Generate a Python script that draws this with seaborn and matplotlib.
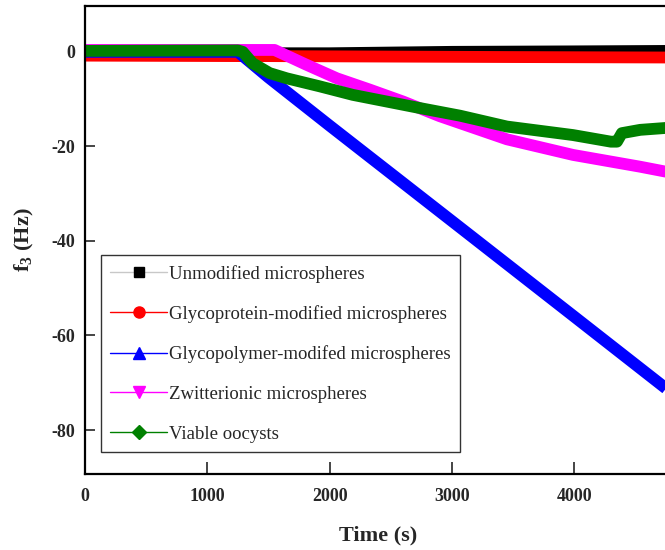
import matplotlib
matplotlib.use("Agg")
import matplotlib.pyplot as plt
from matplotlib.lines import Line2D
import pandas as pd
import seaborn as sns

# Frequency shift of the 3rd overtone (f3) versus time for each sample
time_unmod = [0, 1300, 2000, 3000, 4000, 4800]
f3_unmod = [-0.3, -0.3, -0.3, 0.0, 0.1, 0.2]

time_glycoprotein = [0, 1300, 1500, 2500, 3500, 4800]
f3_glycoprotein = [-0.8, -0.9, -0.9, -1.0, -1.1, -1.2]

time_glycopolymer = [0, 1250, 1500, 2000, 3060, 4000, 4800]
f3_glycopolymer = [0.0, 0.0, -5.4, -15.6, -37.0, -56.0, -72.2]

time_zwitterionic = [0, 1550, 1800, 2060, 2330, 2600, 2900, 3450, 3990, 4540, 4800]
f3_zwitterionic = [0.4, 0.4, -2.6, -5.6, -8.0, -10.5, -13.6, -18.5, -21.8, -24.3, -25.6]

time_oocysts = [0, 1250, 1290, 1370, 1510, 1650, 1920, 2190, 2465, 2740,
                3066, 3450, 3990, 4300, 4350, 4390, 4540, 4800]
f3_oocysts = [0.2, 0.3, 0.0, -2.4, -4.5, -5.6, -7.3, -9.1, -10.5, -11.9,
              -13.5, -15.8, -17.6, -19.0, -19.0, -17.2, -16.5, -16.0]

labels = ["Unmodified microspheres",
          "Glycoprotein-modified microspheres",
          "Glycopolymer-modifed microspheres",
          "Zwitterionic microspheres",
          "Viable oocysts"]
colors = ["#000000", "#ff0000", "#0000ff", "#ff00ff", "#008000"]
markers = ["s", "o", "^", "v", "D"]
marker_sizes = [6.5, 8, 8, 8, 7]
handle_line_colors = ["#c8c8c8", "#ff0000", "#0000ff", "#ff00ff", "#008000"]

series = [(time_unmod, f3_unmod), (time_glycoprotein, f3_glycoprotein),
          (time_glycopolymer, f3_glycopolymer), (time_zwitterionic, f3_zwitterionic),
          (time_oocysts, f3_oocysts)]

sns.set_style("white")
plt.rcParams["font.family"] = ["Liberation Serif", "DejaVu Serif"]
plt.rcParams["axes.unicode_minus"] = False
plt.rcParams["mathtext.fontset"] = "custom"
plt.rcParams["mathtext.rm"] = "Liberation Serif"
plt.rcParams["mathtext.bf"] = "Liberation Serif:bold"

fig = plt.figure(figsize=(6.65, 5.5), dpi=100)
ax = fig.add_axes([0.1278, 0.1382, 0.8827, 0.8509])

for (t, f), lab, col in zip(series, labels, colors):
    df = pd.DataFrame({"Time (s)": t, "f3": f})
    sns.lineplot(data=df, x="Time (s)", y="f3", ax=ax, color=col,
                 linewidth=8.5, sort=False, legend=False,
                 solid_capstyle="butt", solid_joinstyle="round")

ax.set_xlim(0, 4800)
ax.set_ylim(-89.3, 9.7)
ax.set_xticks([0, 1000, 2000, 3000, 4000])
ax.set_yticks([0, -20, -40, -60, -80])

for side in ["left", "bottom", "top", "right"]:
    ax.spines[side].set_visible(True)
    ax.spines[side].set_color("black")
    ax.spines[side].set_linewidth(1.6)

ax.tick_params(axis="x", direction="in", length=9, width=1.2, pad=10,
               labelsize=13, bottom=True, top=False)
ax.tick_params(axis="y", direction="in", length=7.5, width=1.2, pad=7,
               labelsize=13, left=True, right=False)
for lbl in ax.get_xticklabels() + ax.get_yticklabels():
    lbl.set_fontweight("bold")

ax.set_xlabel("Time (s)", fontsize=16, fontweight="bold")
ax.set_ylabel(r"$\mathbf{f_3}$ (Hz)", fontsize=16, fontweight="bold")
ax.xaxis.set_label_coords(0.5, -0.11)
ax.yaxis.set_label_coords(-0.083, 0.5)

handles = [Line2D([], [], color=lc, lw=1.0, marker=m, markersize=ms,
                  markerfacecolor=c, markeredgecolor=c)
           for lc, m, ms, c in zip(handle_line_colors, markers, marker_sizes, colors)]
leg = ax.legend(handles, labels, loc="lower left",
                bbox_to_anchor=(101 / 665, (550 - 452) / 550),
                bbox_transform=fig.transFigure, borderaxespad=0,
                frameon=True, fancybox=False, edgecolor="black",
                fontsize=13.5, handlelength=3.0, handletextpad=0.15,
                labelspacing=1.2, borderpad=0.5)
leg.get_frame().set_linewidth(1.0)

fig.savefig("out.png", dpi=100)
